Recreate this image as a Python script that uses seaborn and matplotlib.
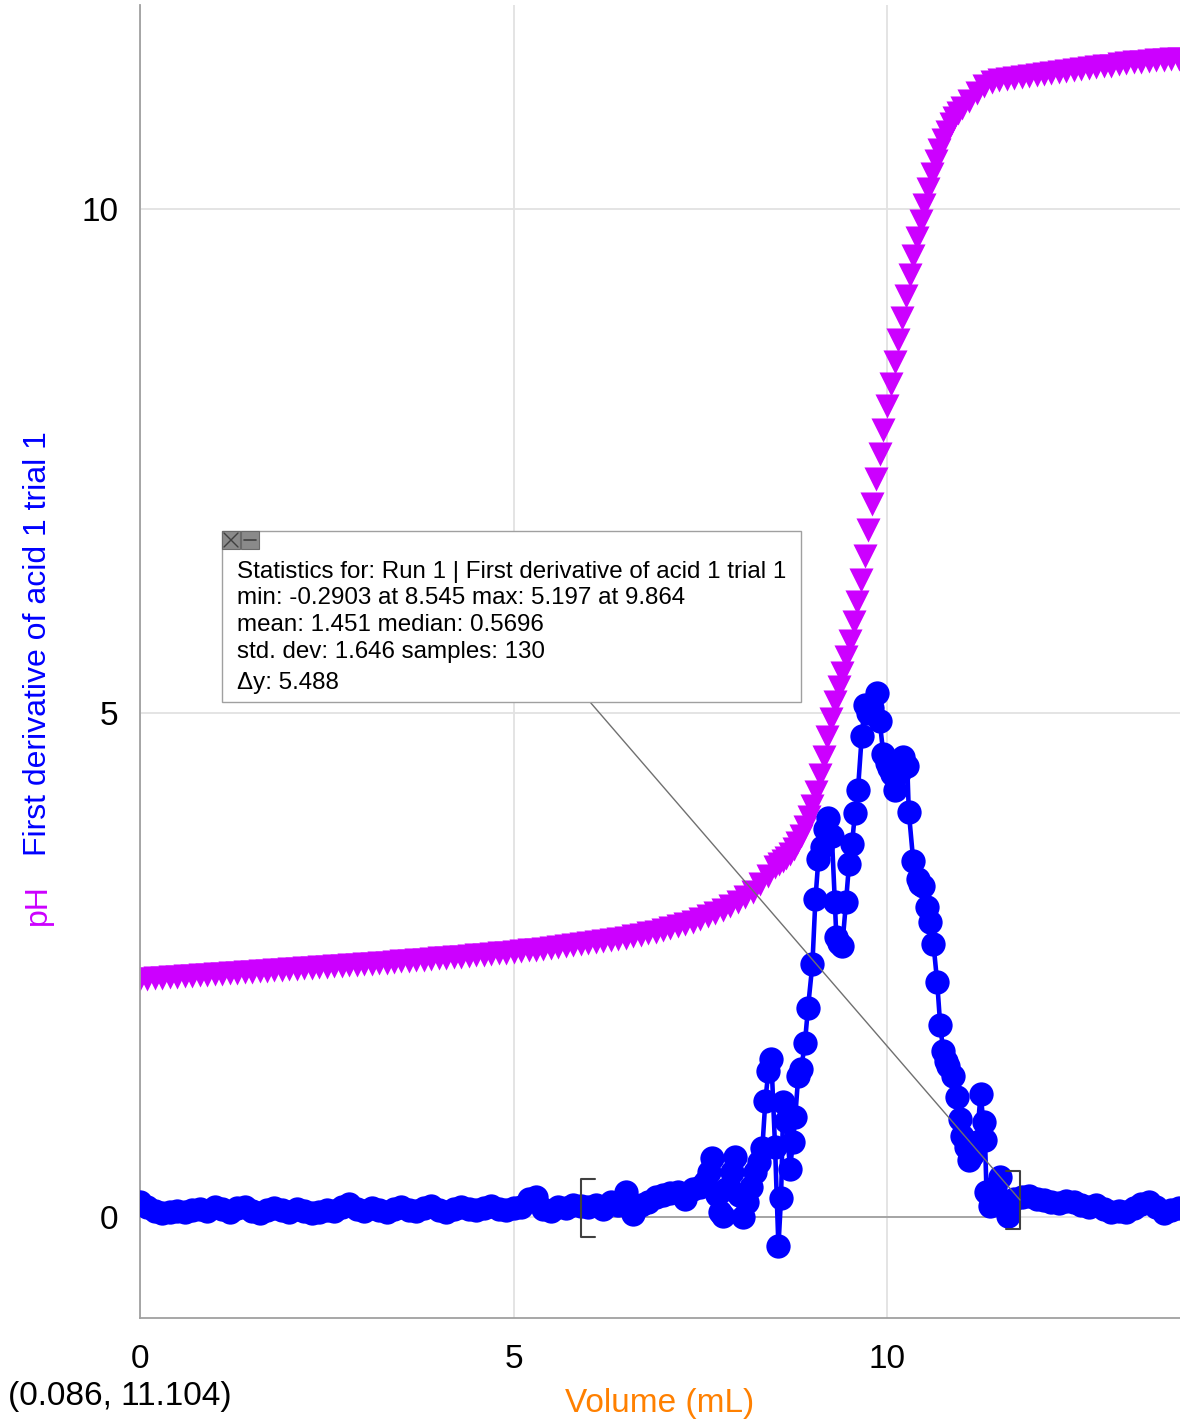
import matplotlib
matplotlib.use("Agg")
import matplotlib.pyplot as plt
import matplotlib.patches as patches
import matplotlib.lines as mlines
import seaborn as sns

# --- data ---
ph_volume = [
    0.0, 0.1, 0.2, 0.3, 0.4, 0.5, 0.6, 0.7, 0.8, 0.9,
    1.0, 1.1, 1.2, 1.3, 1.4, 1.5, 1.6, 1.7, 1.8, 1.9,
    2.0, 2.1, 2.2, 2.3, 2.4, 2.5, 2.6, 2.7, 2.8, 2.9,
    3.0, 3.1, 3.2, 3.3, 3.4, 3.5, 3.6, 3.7, 3.8, 3.9,
    4.0, 4.1, 4.2, 4.3, 4.4, 4.5, 4.6, 4.7, 4.8, 4.9,
    5.0, 5.1, 5.2, 5.3, 5.4, 5.5, 5.6, 5.7, 5.8, 5.9,
    6.0, 6.1, 6.2, 6.3, 6.4, 6.5, 6.6, 6.7, 6.8, 6.9,
    7.0, 7.1, 7.2, 7.3, 7.4, 7.5, 7.6, 7.7, 7.8, 7.9,
    8.0, 8.1, 8.2, 8.3, 8.4, 8.5, 8.55, 8.6, 8.65, 8.7,
    8.75, 8.8, 8.85, 8.9, 8.95, 9.0, 9.05, 9.1, 9.15, 9.2,
    9.25, 9.3, 9.35, 9.4, 9.45, 9.5, 9.55, 9.6, 9.65, 9.7,
    9.75, 9.8, 9.85, 9.9, 9.95, 10.0, 10.05, 10.1, 10.15, 10.2,
    10.25, 10.3, 10.35, 10.4, 10.45, 10.5, 10.55, 10.6, 10.65, 10.7,
    10.75, 10.8, 10.85, 10.9, 10.95, 11.0, 11.1, 11.2, 11.3, 11.4,
    11.5, 11.6, 11.7, 11.8, 11.9, 12.0, 12.1, 12.2, 12.3, 12.4,
    12.5, 12.6, 12.7, 12.8, 12.9, 13.0, 13.1, 13.2, 13.3, 13.4,
    13.5, 13.6, 13.7, 13.8, 13.9,
]
ph_values = [
    2.36, 2.36, 2.37, 2.37, 2.38, 2.38, 2.39, 2.39, 2.40, 2.40,
    2.41, 2.41, 2.42, 2.42, 2.43, 2.43, 2.44, 2.44, 2.45, 2.45,
    2.46, 2.46, 2.47, 2.47, 2.48, 2.48, 2.49, 2.49, 2.50, 2.50,
    2.51, 2.51, 2.52, 2.52, 2.53, 2.54, 2.54, 2.55, 2.55, 2.56,
    2.57, 2.57, 2.58, 2.58, 2.59, 2.60, 2.60, 2.61, 2.62, 2.62,
    2.63, 2.64, 2.65, 2.65, 2.66, 2.67, 2.68, 2.69, 2.70, 2.71,
    2.72, 2.73, 2.74, 2.75, 2.76, 2.77, 2.79, 2.80, 2.82, 2.83,
    2.85, 2.87, 2.89, 2.91, 2.93, 2.96, 2.99, 3.02, 3.05, 3.09,
    3.13, 3.17, 3.22, 3.30, 3.38, 3.47, 3.50, 3.53, 3.56, 3.60,
    3.65, 3.71, 3.78, 3.87, 3.97, 4.08, 4.22, 4.38, 4.56, 4.76,
    4.94, 5.11, 5.26, 5.40, 5.55, 5.71, 5.90, 6.10, 6.32, 6.56,
    6.81, 7.07, 7.32, 7.57, 7.81, 8.04, 8.26, 8.48, 8.70, 8.92,
    9.13, 9.34, 9.53, 9.71, 9.88, 10.04, 10.20, 10.34, 10.47, 10.58,
    10.68, 10.76, 10.84, 10.90, 10.95, 11.00, 11.07, 11.15, 11.22, 11.26,
    11.28, 11.29, 11.30, 11.31, 11.32, 11.33, 11.34, 11.35, 11.36, 11.37,
    11.38, 11.39, 11.40, 11.41, 11.42, 11.42, 11.43, 11.44, 11.45, 11.45,
    11.46, 11.47, 11.47, 11.48, 11.48,
]

deriv_volume = [
    0.0, 0.1, 0.2, 0.3, 0.4, 0.5, 0.6, 0.7, 0.8, 0.9,
    1.0, 1.1, 1.2, 1.3, 1.4, 1.5, 1.6, 1.7, 1.8, 1.9,
    2.0, 2.1, 2.2, 2.3, 2.4, 2.5, 2.6, 2.7, 2.8, 2.9,
    3.0, 3.1, 3.2, 3.3, 3.4, 3.5, 3.6, 3.7, 3.8, 3.9,
    4.0, 4.1, 4.2, 4.3, 4.4, 4.5, 4.6, 4.7, 4.8, 4.9,
    5.0, 5.1, 5.2, 5.3, 5.4, 5.5, 5.6, 5.7, 5.8, 5.9,
    6.0, 6.1, 6.2, 6.3, 6.4, 6.5, 6.6, 6.7, 6.8, 6.9,
    7.0, 7.1, 7.2, 7.3, 7.4, 7.5, 7.56, 7.61, 7.66, 7.72,
    7.76, 7.8, 7.85, 7.92, 7.97, 8.02, 8.07, 8.12, 8.18, 8.23,
    8.28, 8.33, 8.37, 8.41, 8.45, 8.5, 8.545, 8.58, 8.61, 8.65,
    8.7, 8.74, 8.77, 8.81, 8.85, 8.9, 8.94, 9.0, 9.04, 9.08,
    9.13, 9.17, 9.21, 9.26, 9.3, 9.32, 9.36, 9.4, 9.45, 9.49,
    9.53, 9.57, 9.61, 9.66, 9.7, 9.75, 9.8, 9.864, 9.9, 9.95,
    10.0, 10.03, 10.07, 10.11, 10.16, 10.21, 10.27, 10.29, 10.35, 10.41,
    10.44, 10.48, 10.53, 10.58, 10.62, 10.67, 10.71, 10.75, 10.79, 10.82,
    10.88, 10.94, 10.98, 11.0, 11.05, 11.09, 11.14, 11.2, 11.25, 11.29,
    11.31, 11.33, 11.38, 11.45, 11.51, 11.56, 11.62, 11.7, 11.8, 11.9,
    12.0, 12.1, 12.2, 12.3, 12.4, 12.5, 12.6, 12.7, 12.8, 12.9,
    13.0, 13.1, 13.2, 13.3, 13.4, 13.5, 13.6, 13.7, 13.8, 13.9,
]
deriv_values = [
    0.15, 0.10, 0.06, 0.04, 0.05, 0.06, 0.05, 0.07, 0.08, 0.06,
    0.10, 0.08, 0.05, 0.09, 0.10, 0.06, 0.04, 0.07, 0.09, 0.07,
    0.05, 0.08, 0.06, 0.04, 0.05, 0.07, 0.06, 0.10, 0.13, 0.08,
    0.06, 0.09, 0.07, 0.05, 0.08, 0.10, 0.07, 0.06, 0.09, 0.11,
    0.07, 0.05, 0.08, 0.10, 0.08, 0.07, 0.09, 0.11, 0.08, 0.07,
    0.09, 0.10, 0.18, 0.20, 0.08, 0.06, 0.10, 0.09, 0.12, 0.11,
    0.10, 0.12, 0.08, 0.15, 0.12, 0.25, 0.03, 0.12, 0.15, 0.20,
    0.22, 0.24, 0.25, 0.18, 0.28, 0.30, 0.35, 0.45, 0.59, 0.22,
    0.05, 0.01, 0.28, 0.45, 0.60, 0.22, 0.00, 0.15, 0.30, 0.45,
    0.55, 0.69, 1.15, 1.45, 1.57, 0.70, -0.29, 0.19, 1.14, 0.95,
    0.48, 0.75, 0.99, 1.40, 1.47, 1.73, 2.07, 2.51, 3.15, 3.55,
    3.67, 3.85, 3.96, 3.78, 3.13, 2.78, 2.72, 2.69, 3.13, 3.50,
    3.70, 4.01, 4.24, 4.77, 5.08, 5.00, 5.05, 5.197, 4.92, 4.59,
    4.50, 4.45, 4.39, 4.24, 4.40, 4.56, 4.47, 4.02, 3.53, 3.35,
    3.30, 3.28, 3.08, 2.93, 2.71, 2.33, 1.91, 1.65, 1.55, 1.50,
    1.40, 1.19, 0.97, 0.80, 0.70, 0.57, 0.62, 0.75, 1.22, 0.94,
    0.77, 0.25, 0.11, 0.30, 0.40, 0.15, 0.01, 0.18, 0.20, 0.21,
    0.18, 0.17, 0.15, 0.14, 0.16, 0.15, 0.12, 0.10, 0.12, 0.08,
    0.05, 0.06, 0.05, 0.09, 0.13, 0.15, 0.10, 0.04, 0.07, 0.09,
]

stats_lines = [
    "Statistics for: Run 1 | First derivative of acid 1 trial 1",
    "min: -0.2903 at 8.545 max: 5.197 at 9.864",
    "mean: 1.451 median: 0.5696",
    "std. dev: 1.646 samples: 130",
    "\u0394y: 5.488",
]
stats_range = [5.90, 11.78]

W, H = 1180, 1425


def fx(px):
    return px / W


def fy(py):
    return 1 - py / H


sns.set_style("white")
plt.rcParams['font.family'] = ['Liberation Sans', 'DejaVu Sans']

fig = plt.figure(figsize=(W / 100, H / 100), dpi=100)
ax = fig.add_axes([fx(140), fy(1318), fx(1180) - fx(140), fy(5) - fy(1318)])

sns.scatterplot(x=ph_volume, y=ph_values, ax=ax, marker='v', s=300,
                color='#CC00FF', linewidth=0, legend=False, zorder=2)
sns.lineplot(x=deriv_volume, y=deriv_values, ax=ax, color='#0000FF',
             linewidth=3.3, marker='o', markersize=17.5, markeredgewidth=0,
             sort=False, estimator=None, zorder=3)

ax.set_xlim(0, 13.92)
ax.set_ylim(-1, 12.02)
ax.set_xticks([0, 5, 10])
ax.set_xticks(range(0, 14), minor=True)
ax.set_yticks([0, 5, 10])
ax.set_yticks(range(-1, 13), minor=True)
ax.grid(True, which='major', color='#e2e2e2', linewidth=1.3, zorder=0)
ax.set_axisbelow(True)

for side in ['top', 'right']:
    ax.spines[side].set_visible(False)
for side in ['left', 'bottom']:
    ax.spines[side].set_color('#a0a0a0')
    ax.spines[side].set_linewidth(1.3)

ax.tick_params(axis='both', which='major', length=14, width=1.1,
               color='#909090', labelsize=24, labelcolor='black')
ax.tick_params(axis='both', which='minor', length=7, width=1.1, color='#909090')
ax.tick_params(axis='x', which='major', pad=5)
ax.tick_params(axis='y', which='major', pad=1.5)

ax.set_xlabel("Volume (mL)", fontsize=24, color='#FF8000')
ax.xaxis.set_label_coords(0.5, -0.053)
ax.xaxis.label.set_va('top')
ax.set_ylabel("")

# statistics range markers
x0, x1 = stats_range
ax.plot([x0, x1], [0, 0], color='#a0a0a0', linewidth=1.3, zorder=1)
ax.plot([x0 + 0.19, x0, x0, x0 + 0.19], [0.377, 0.377, -0.198, -0.198],
        color='#404040', linewidth=1.5, zorder=4)
ax.plot([x1 - 0.19, x1, x1, x1 - 0.19], [0.456, 0.456, -0.119, -0.119],
        color='#404040', linewidth=1.5, zorder=4)

# leader line from the stats box to the range
fig.add_artist(mlines.Line2D([fx(590), fx(1020)], [fy(702), fy(1200)],
                             color='#707070', linewidth=1.0, zorder=6))

# statistics box
box = patches.Rectangle((fx(222), fy(702)), fx(801) - fx(222), fy(531) - fy(702),
                        transform=fig.transFigure, facecolor='white',
                        edgecolor='#a0a0a0', linewidth=1.0, zorder=7)
fig.add_artist(box)
for bx in [222, 241]:
    fig.add_artist(patches.Rectangle((fx(bx), fy(549)), fx(18), fy(531) - fy(549),
                                     transform=fig.transFigure, facecolor='#8a8a8a',
                                     edgecolor='#6a6a6a', linewidth=0.8, zorder=8))
fig.add_artist(mlines.Line2D([fx(224), fx(238)], [fy(533), fy(547)],
                             color='#404040', linewidth=1.0, zorder=9))
fig.add_artist(mlines.Line2D([fx(224), fx(238)], [fy(547), fy(533)],
                             color='#404040', linewidth=1.0, zorder=9))
fig.add_artist(mlines.Line2D([fx(244), fx(256)], [fy(540), fy(540)],
                             color='#404040', linewidth=1.2, zorder=9))

baselines = [578, 604, 631, 658, 689]
for line, by in zip(stats_lines, baselines):
    fig.text(fx(237), fy(by), line, fontsize=17.4, color='black',
             ha='left', va='baseline', zorder=10)

# y axis label in two colours
fig.text(fx(46), fy(905), "pH", rotation=90, rotation_mode='anchor',
         ha='center', va='baseline', fontsize=23, color='#CC00FF')
fig.text(fx(46), fy(644), "First derivative of acid 1 trial 1", rotation=90,
         rotation_mode='anchor', ha='center', va='baseline', fontsize=23,
         color='#0000FF')

fig.text(fx(8), fy(1397), "(0.086, 11.104)", fontsize=24, color='black',
         ha='left', va='center')

fig.savefig("out.png", dpi=100)
